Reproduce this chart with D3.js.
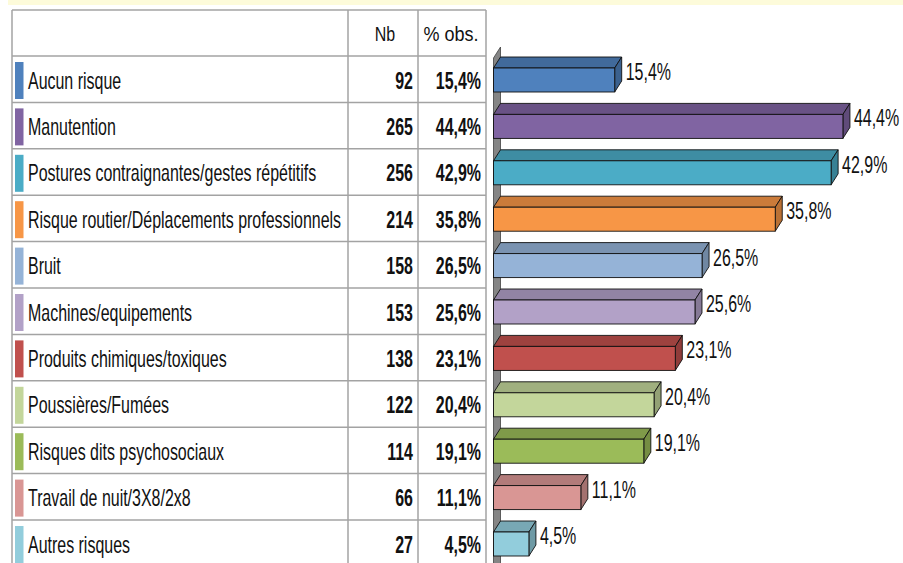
<!DOCTYPE html>
<html>
<head>
<meta charset="utf-8">
<script src="https://cdn.jsdelivr.net/npm/d3@7"></script>
<style>
  body { margin: 0; background: #fff; }
  text { font-family: "Liberation Sans", Arial, sans-serif; }
</style>
</head>
<body>
<div id="chart"></div>
<script>
// data
var categories = [
  "Aucun risque",
  "Manutention",
  "Postures contraignantes/gestes répétitifs",
  "Risque routier/Déplacements professionnels",
  "Bruit",
  "Machines/equipements",
  "Produits chimiques/toxiques",
  "Poussières/Fumées",
  "Risques dits psychosociaux",
  "Travail de nuit/3X8/2x8",
  "Autres risques"
];
var counts = [92, 265, 256, 214, 158, 153, 138, 122, 114, 66, 27];
var percents = [15.4, 44.4, 42.9, 35.8, 26.5, 25.6, 23.1, 20.4, 19.1, 11.1, 4.5];
var colors = ["#4F81BD", "#8064A2", "#4BACC6", "#F79646", "#95B3D7", "#B2A1C7",
  "#C0504D", "#C3D69B", "#9BBB59", "#D99694", "#92CDDC"];
var headers = ["Nb", "% obs."];

var svgWidth = 903;
var svgHeight = 563;

var table = { left: 12, top: 10, headerBottom: 56, col1: 348, col2: 418, right: 486 };
var rowStep = 46.4;
var depth = { dx: 7, dy: 11 };
var barHeight = 24;

// no narrow font installed, so squeeze a regular one
var squeeze = 0.665;
var fontSize = 24;

var svg = d3.select("#chart")
  .append("svg")
  .attr("width", svgWidth)
  .attr("height", svgHeight);

function narrow(sel, x, y, k) {
  sel.attr("transform", function(d, i) {
    var xx = typeof x === "function" ? x(d, i) : x;
    var yy = typeof y === "function" ? y(d, i) : y;
    return `translate(${xx}, ${yy}) scale(${k}, 1)`;
  });
}

// pale yellow strip at the very top
svg.append("rect")
  .attr("x", 8).attr("y", 0)
  .attr("width", svgWidth - 8).attr("height", 5)
  .attr("fill", "#FDFBDA");

var yRow = d3.scaleBand()
  .domain(categories)
  .range([table.headerBottom, table.headerBottom + rowStep * categories.length])
  .paddingInner(0);

var fmt = function(v) { return d3.format(".1f")(v).replace(".", ",") + "%"; };

// ---- table ----
var grid = svg.append("g")
  .attr("stroke", "#A3A3A3")
  .attr("stroke-width", 1.5);

var tableBottom = table.headerBottom + rowStep * categories.length;

[table.left, table.col1, table.col2, table.right].forEach(function(x) {
  grid.append("line")
    .attr("x1", x).attr("x2", x)
    .attr("y1", table.top).attr("y2", tableBottom);
});

var rowLines = [table.top, table.headerBottom].concat(categories.map(function(c) { return yRow(c) + yRow.bandwidth(); }));
rowLines.forEach(function(y) {
  grid.append("line")
    .attr("x1", table.left).attr("x2", table.right)
    .attr("y1", y).attr("y2", y);
});

svg.append("text")
  .attr("text-anchor", "middle")
  .attr("font-size", "20px")
  .attr("fill", "#111")
  .text(headers[0])
  .call(narrow, (table.col1 + table.col2) / 2 + 2, 40.5, 0.8);

svg.append("text")
  .attr("text-anchor", "middle")
  .attr("font-size", "20px")
  .attr("fill", "#111")
  .text(headers[1])
  .call(narrow, (table.col2 + table.right) / 2 - 1, 40.5, 0.9);

var rows = svg.selectAll(".row")
  .data(categories)
  .enter()
  .append("g")
  .attr("class", "row")
  .attr("transform", d => `translate(0, ${yRow(d)})`);

rows.append("rect")
  .attr("x", 15)
  .attr("y", 6)
  .attr("width", 8.5)
  .attr("height", 37)
  .attr("fill", (d, i) => colors[i]);

rows.append("text")
  .attr("font-size", fontSize + "px")
  .attr("fill", "#111")
  .text(d => d)
  .call(narrow, 28, 32.5, squeeze);

rows.append("text")
  .attr("text-anchor", "end")
  .attr("font-size", fontSize + "px")
  .attr("font-weight", "bold")
  .attr("fill", "#111")
  .text((d, i) => counts[i])
  .call(narrow, table.col2 - 5, 32.5, squeeze);

rows.append("text")
  .attr("text-anchor", "end")
  .attr("font-size", fontSize + "px")
  .attr("font-weight", "bold")
  .attr("fill", "#111")
  .text((d, i) => fmt(percents[i]))
  .call(narrow, table.right - 5, 32.5, squeeze);

// ---- 3D bar chart ----
var xScale = d3.scaleLinear()
  .domain([0, 50])
  .range([493.5, 493.5 + 7.87 * 50]);

var x0 = xScale(0);

// side wall
svg.append("path")
  .attr("d", `M${x0},${table.headerBottom + 2} L${x0 + depth.dx},${table.headerBottom + 2 - depth.dy} L${x0 + depth.dx},${svgHeight + 20} L${x0},${svgHeight + 20} Z`)
  .attr("fill", "#858585")
  .attr("stroke", "#404040")
  .attr("stroke-width", 0.8);

var bars = svg.selectAll(".bar")
  .data(categories)
  .enter()
  .append("g")
  .attr("class", "bar");

function barTop(d) { return yRow(d) + 12; }

// top face
bars.append("path")
  .attr("d", function(d, i) {
    var t = barTop(d), x1 = xScale(percents[i]);
    return `M${x0},${t} L${x0 + depth.dx},${t - depth.dy} L${x1 + depth.dx},${t - depth.dy} L${x1},${t} Z`;
  })
  .attr("fill", (d, i) => d3.color(colors[i]).darker(0.55))
  .attr("stroke", "#111")
  .attr("stroke-width", 0.9);

// side face
bars.append("path")
  .attr("d", function(d, i) {
    var t = barTop(d), x1 = xScale(percents[i]);
    return `M${x1},${t} L${x1 + depth.dx},${t - depth.dy} L${x1 + depth.dx},${t + barHeight - depth.dy} L${x1},${t + barHeight} Z`;
  })
  .attr("fill", (d, i) => d3.color(colors[i]).darker(0.8))
  .attr("stroke", "#111")
  .attr("stroke-width", 0.9);

// front face
bars.append("rect")
  .attr("x", x0)
  .attr("y", d => barTop(d))
  .attr("width", (d, i) => xScale(percents[i]) - x0)
  .attr("height", barHeight)
  .attr("fill", (d, i) => colors[i])
  .attr("stroke", "#111")
  .attr("stroke-width", 0.9);

bars.append("text")
  .attr("font-size", fontSize + "px")
  .attr("fill", "#111")
  .text((d, i) => fmt(percents[i]))
  .call(narrow, (d, i) => xScale(percents[i]) + depth.dx + 4, d => barTop(d) + 12, squeeze);
</script>
</body>
</html>
